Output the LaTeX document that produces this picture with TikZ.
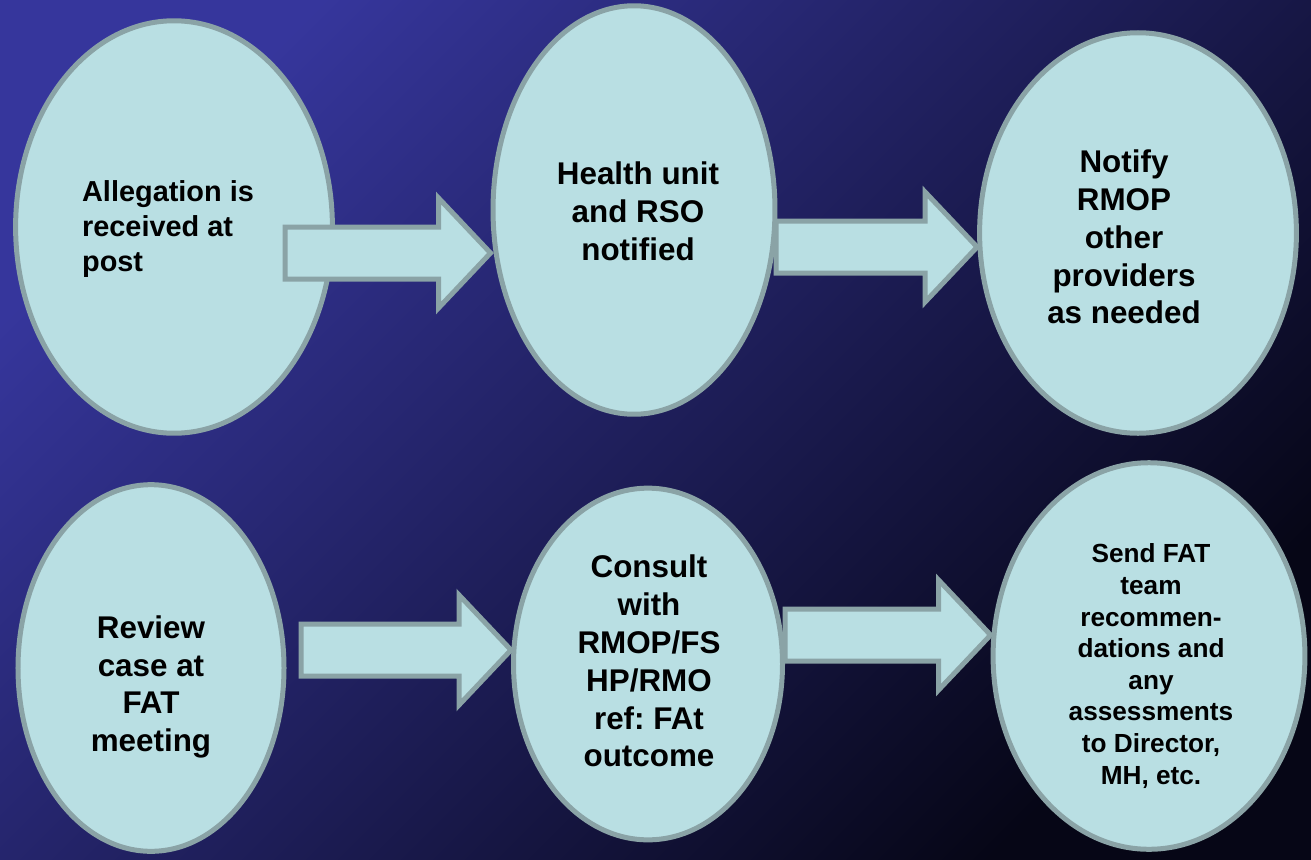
\documentclass[tikz,border=0pt]{standalone}
\usepackage{fontspec}
\setmainfont{Liberation Sans}
\usepackage{tikz}
\usetikzlibrary{calc,positioning,shapes,backgrounds}
\pgfdeclarelayer{behind}
\pgfsetlayers{background,behind,main}
\definecolor{bgtop}{RGB}{54,54,156}
\definecolor{bgmid}{RGB}{36,35,112}
\definecolor{bgbot}{RGB}{6,6,22}
\definecolor{bubblefill}{RGB}{185,223,227}
\definecolor{rimgray}{RGB}{138,163,166}
\frenchspacing
\tikzset{
	x=1bp,
	y=-1bp,
	oval/.style={ellipse, draw=rimgray, fill=bubblefill, line width=5bp, inner sep=0pt},
	txt/.style={font=\bfseries\fontsize{31.5}{38}\selectfont, align=center, inner sep=0pt},
	barrow/.style={draw=rimgray, fill=bubblefill, line width=5bp, line join=miter},
}
% block arrow from the shaft start #1 to the tip #2
\newcommand{\blockarrow}[2]{%
	\draw[barrow] let \p1=(#1), \p2=(#2) in
		(\x1,\y1+26bp) -- (\x2-52bp,\y1+26bp) -- (\x2-52bp,\y1+55bp) -- (\x2,\y1)
		-- (\x2-52bp,\y1-55bp) -- (\x2-52bp,\y1-26bp) -- (\x1,\y1-26bp) -- cycle;
}

\begin{document}
\begin{tikzpicture}
	\useasboundingbox (0,0) rectangle (1311,859);
	\begin{pgfonlayer}{background}
		\shade[top color=bgtop, middle color=bgmid, bottom color=bgbot, shading angle=45] (0,0) rectangle (1311,859);
	\end{pgfonlayer}

	% top row
	\node[oval, minimum width=318, minimum height=414] (e1) at (174,227) {};
	\node[oval, minimum width=283, minimum height=410] (e2) at (634,210) {};
	\node[oval, minimum width=318, minimum height=402] (e3) at (1138,233) {};
	\node[txt, font=\bfseries\fontsize{29}{35}\selectfont, align=left] (t1) at (168,229) {Allegation is\\received at\\post};
	\node[txt] (t2) at (638,211) {Health unit\\and RSO\\notified};
	\node[txt] (t3) at (1124,237) {Notify\\RMOP\\other\\providers\\as needed};

	% bottom row
	\node[oval, minimum width=267, minimum height=368] (e4) at (151,668) {};
	\node[oval, minimum width=270, minimum height=353] (e5) at (648,664) {};
	\node[oval, minimum width=313, minimum height=388] (e6) at (1149,656) {};
	\node[txt] (t4) at (151,687) {Review\\case at\\FAT\\meeting};
	\node[txt] (t5) at (649,661) {Consult\\with\\RMOP/FS\\HP/RMO\\ref: FAt\\outcome};
	\node[txt, font=\bfseries\fontsize{26.3}{31.7}\selectfont] (t6) at (1151,666) {Send FAT\\team\\recommen-\\dations and\\any\\assessments\\to Director,\\MH, etc.};

	% arrows
	\coordinate (a1) at (285,253);
	\coordinate (a2) at (776,247);
	\coordinate (a3) at (301,650);
	\coordinate (a4) at (785,635);
	\blockarrow{a1}{e2.west |- a1}
	\blockarrow{a3}{e5.west |- a3}
	\begin{pgfonlayer}{behind}
		\blockarrow{a2}{e3.west |- a2}
		\blockarrow{a4}{e6.west |- a4}
	\end{pgfonlayer}
\end{tikzpicture}
\end{document}
